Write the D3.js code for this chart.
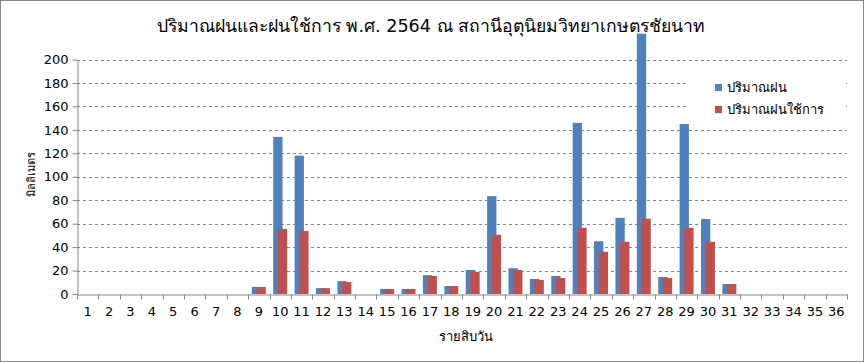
<!DOCTYPE html>
<html>
<head>
<meta charset="utf-8">
<script src="https://cdn.jsdelivr.net/npm/d3@7"></script>
<style>
  body { margin: 0; background: #fff; }
  svg text { font-family: Tahoma, "DejaVu Sans", "Noto Sans", sans-serif; fill: #000; }
</style>
</head>
<body>
<svg id="chart" width="864" height="362"></svg>
<script>
// data: ten-day periods 1..36
const periods = d3.range(1, 37).map(String);
const rainfall = [0, 0, 0, 0, 0, 0, 0, 0, 6, 134, 118, 5, 11, 0, 4.3, 4.3, 16, 6.8,
  20.5, 83.5, 22, 12.8, 15.4, 146, 45, 65, 222, 14.5, 145, 64, 8.5, 0, 0, 0, 0, 0];
const effectiveRain = [0, 0, 0, 0, 0, 0, 0, 0, 6, 55.5, 53.8, 5, 10.2, 0, 4.3, 4.3, 15.4, 6.8,
  18.8, 50.5, 20.5, 12, 13.6, 56.5, 36, 44.5, 64.2, 13.6, 56.5, 44.5, 8.5, 0, 0, 0, 0, 0];
const yTicks = d3.range(0, 201, 20);
const seriesNames = ["ปริมาณฝน", "ปริมาณฝนใช้การ"];
const colors = ["#4F81BD", "#C0504D"];

const svg = d3.select("#chart");
const plot = { left: 77, right: 847, top: 59.5, bottom: 294 };

// outer border
svg.append("rect")
  .attr("x", 0.5).attr("y", 0.5)
  .attr("width", 863).attr("height", 361)
  .attr("fill", "none").attr("stroke", "#868686");

const x = d3.scaleBand()
  .domain(periods)
  .range([plot.left, plot.right])
  .paddingInner(0).paddingOuter(0);

const y = d3.scaleLinear()
  .domain([0, 200])
  .range([plot.bottom, plot.top]);

// gridlines
svg.append("g")
  .selectAll("line")
  .data(yTicks.filter(t => t > 0))
  .join("line")
  .attr("x1", plot.left).attr("x2", plot.right)
  .attr("y1", d => Math.round(y(d)) + 0.5).attr("y2", d => Math.round(y(d)) + 0.5)
  .attr("stroke", "#868686")
  .attr("stroke-dasharray", "3,3");

// bars, second series overlaps the first by half a bar
const w = x.bandwidth() * 0.435;
const barG = svg.append("g");
[rainfall, effectiveRain].forEach((vals, si) => {
  barG.append("g")
    .selectAll("rect")
    .data(vals.map((v, i) => ({ p: periods[i], v })))
    .join("rect")
    .attr("x", d => x(d.p) + x.bandwidth() / 2 - 0.75 * w + si * 0.5 * w)
    .attr("y", d => y(d.v))
    .attr("width", w)
    .attr("height", d => y(0) - y(d.v))
    .attr("fill", colors[si]);
});

// legend (white box hides gridlines behind)
const legend = svg.append("g");
legend.append("rect")
  .attr("x", 688).attr("y", 76).attr("width", 158).attr("height", 48)
  .attr("fill", "#fff");
seriesNames.forEach((name, i) => {
  legend.append("rect")
    .attr("x", 715).attr("y", 84 + i * 22)
    .attr("width", 7).attr("height", 7)
    .attr("fill", colors[i]);
  legend.append("text")
    .attr("x", 727).attr("y", 88 + i * 22)
    .attr("dominant-baseline", "middle")
    .attr("font-size", 13)
    .text(name);
});

// axes
const yAxis = svg.append("g")
  .attr("transform", `translate(${plot.left + 0.5},0)`)
  .call(d3.axisLeft(y).tickValues(yTicks).tickSize(5).tickSizeOuter(0).tickPadding(4));
yAxis.select(".domain").attr("stroke", "#868686");
yAxis.selectAll(".tick line").attr("stroke", "#868686");
yAxis.selectAll("text").attr("font-size", 13).attr("font-family", null);

const xAxis = svg.append("g")
  .attr("transform", `translate(0,${plot.bottom + 0.5})`)
  .call(d3.axisBottom(x).tickSize(0).tickPadding(12));
xAxis.select(".domain").attr("stroke", "#868686");
xAxis.selectAll("text").attr("font-size", 13).attr("font-family", null);
// tick marks between categories
xAxis.append("g")
  .selectAll("line")
  .data(periods.concat(["end"]))
  .join("line")
  .attr("x1", (d, i) => Math.round(i < periods.length ? x(d) : plot.right) + 0.5)
  .attr("x2", (d, i) => Math.round(i < periods.length ? x(d) : plot.right) + 0.5)
  .attr("y1", 0).attr("y2", 5)
  .attr("stroke", "#868686");

// titles
svg.append("text")
  .attr("x", 431).attr("y", 27)
  .attr("text-anchor", "middle").attr("dominant-baseline", "middle")
  .attr("font-size", 17.6)
  .text("ปริมาณฝนและฝนใช้การ พ.ศ. 2564 ณ สถานีอุตุนิยมวิทยาเกษตรชัยนาท");

svg.append("text")
  .attr("x", 466).attr("y", 337)
  .attr("text-anchor", "middle").attr("dominant-baseline", "middle")
  .attr("font-size", 13)
  .text("รายสิบวัน");

svg.append("text")
  .attr("transform", "translate(32,174) rotate(-90)")
  .attr("text-anchor", "middle").attr("dominant-baseline", "middle")
  .attr("font-size", 11)
  .text("มิลลิเมตร");
</script>
</body>
</html>
